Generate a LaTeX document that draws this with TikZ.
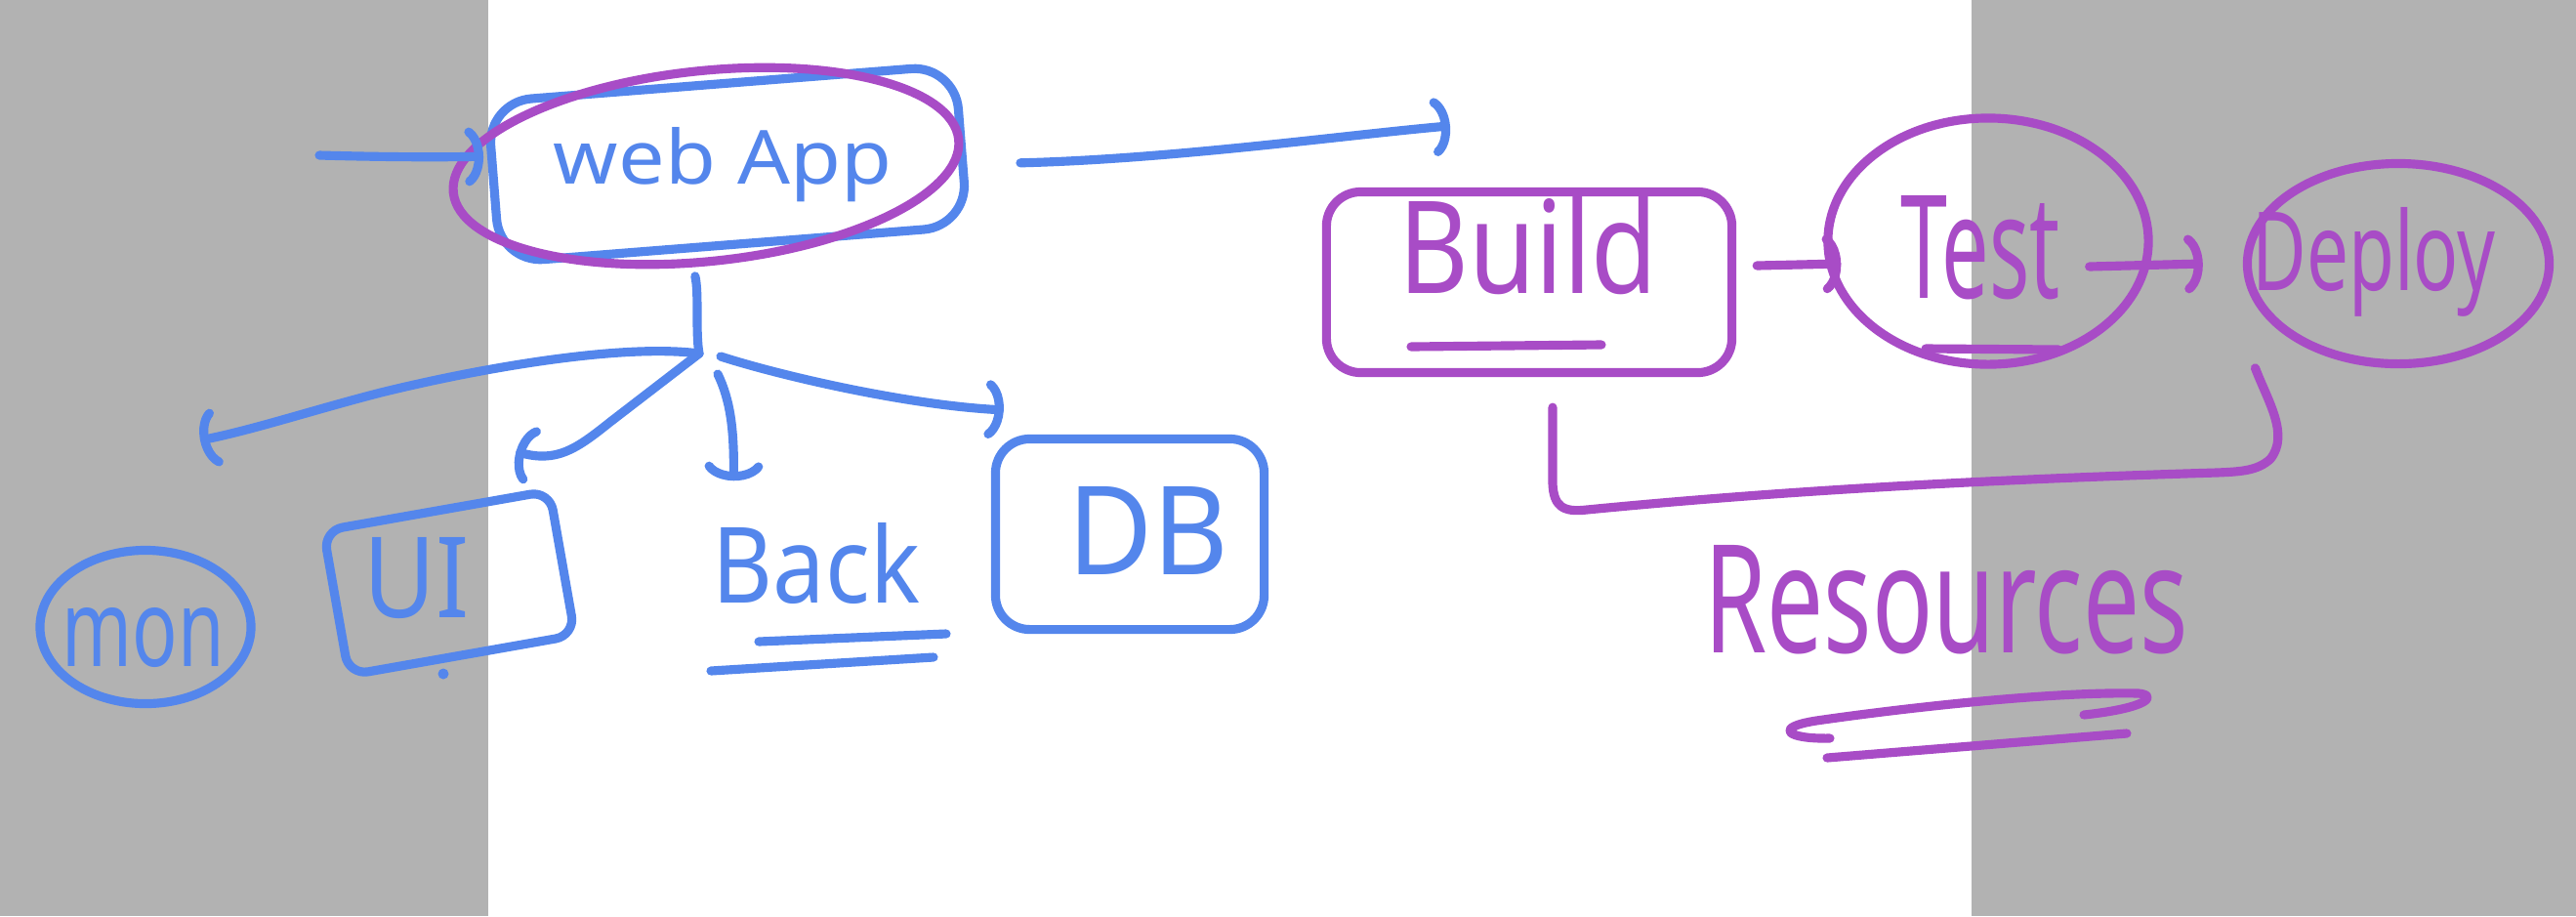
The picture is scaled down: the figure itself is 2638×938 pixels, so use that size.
\documentclass[tikz,border=0pt]{standalone}
\usepackage{fontspec}
\setmainfont{Noto Sans}
\usepackage{graphicx}
\usetikzlibrary{arrows.meta,shapes.geometric}
\definecolor{skblue}{RGB}{84,134,236}
\definecolor{skpurple}{RGB}{168,76,198}
\definecolor{skgray}{RGB}{178,178,178}
\newcommand\hwtxt[3]{\resizebox{#1}{#2}{#3}}
\begin{document}
\begin{tikzpicture}[x=0.01cm,y=-0.01cm,
  pen/.style={line width=2.6pt, line cap=round, line join=round},
  bpen/.style={pen, draw=skblue},
  ppen/.style={pen, draw=skpurple},
  hook/.style={-{Arc Barb[arc=130,length=2.2mm,width=6.5mm,round]}},
  txt/.style={inner sep=0pt, anchor=base},
]
\useasboundingbox (0,0) rectangle (2638,938);
\fill[white] (0,0) rectangle (2638,938);
\fill[skgray] (0,0) rectangle (500,938);
\fill[skgray] (2019,0) rectangle (2638,938);

% shapes
\node[bpen, rectangle, rounded corners=0.45cm, minimum width=4.8cm, minimum height=1.65cm, rotate=4.5, inner sep=0pt] (webbox) at (745,168) {};
\node[ppen, ellipse, minimum width=5.2cm, minimum height=1.95cm, rotate=6, inner sep=0pt] (webring) at (723,170) {};
\node[ppen, rectangle, rounded corners=0.35cm, minimum width=4.15cm, minimum height=1.85cm, inner sep=0pt] (build) at (1566,289) {};
\node[ppen, ellipse, minimum width=3.28cm, minimum height=2.52cm, inner sep=0pt] (test) at (2036,247) {};
\node[ppen, ellipse, minimum width=3.09cm, minimum height=2.05cm, inner sep=0pt] (deploy) at (2456,270) {};
\node[bpen, ellipse, minimum width=2.16cm, minimum height=1.57cm, inner sep=0pt] (mon) at (149,642) {};
\node[bpen, rectangle, rounded corners=0.2cm, minimum width=2.35cm, minimum height=1.5cm, rotate=10, inner sep=0pt] (ui) at (460,597) {};
\node[bpen, rectangle, rounded corners=0.35cm, minimum width=2.75cm, minimum height=1.95cm, inner sep=0pt] (db) at (1157,547) {};

% texts
\node[txt, text=skblue] (webtxt) at (740,188) {\hwtxt{3.46cm}{0.58cm}{web App}};
\node[txt, text=skpurple] (buildtxt) at (1565,300) {\hwtxt{2.65cm}{1.0cm}{Build}};
\node[txt, text=skpurple] (testtxt) at (2028,305) {\hwtxt{1.63cm}{1.05cm}{Test}};
\node[txt, text=skpurple] (deploytxt) at (2431,297) {\hwtxt{2.49cm}{0.85cm}{Deploy}};
\node[txt, text=skblue] (montxt) at (147,682) {\hwtxt{1.66cm}{0.6cm}{mon}};
\node[txt, text=skblue] (uitxt) at (427,632) {\hwtxt{1.08cm}{0.82cm}{UI}};
\node[txt, text=skblue] (backtxt) at (836,617) {\hwtxt{2.12cm}{0.82cm}{Back}};
\node[txt, text=skblue] (dbtxt) at (1176,588) {\hwtxt{1.65cm}{0.9cm}{DB}};
\node[txt, text=skpurple] (restxt) at (1993,668) {\hwtxt{4.95cm}{1.1cm}{Resources}};

% connectors
\coordinate (src) at (327,159);
\coordinate (hub) at (716,362);
\draw[bpen,hook] (src) .. controls (400,161) and (450,161) .. ([shift={(-6,-27)}]webbox.west);
\draw[bpen,hook] ([shift={(56,18)}]webbox.east) .. controls (1200,163) and (1380,138) .. ([shift={(-81,-63)}]build.north);
\draw[ppen,hook] ([shift={(21,-17)}]build.east) -- ([shift={(18,23)}]test.west);
\draw[ppen,hook] ([shift={(-65,26)}]test.east) -- ([shift={(-41,0)}]deploy.west);
\draw[ppen] ([shift={(-34,31)}]deploy.south west) .. controls (2322,410) and (2345,445) .. (2325,470)
  .. controls (2312,482) and (2295,483) .. (2270,484)
  .. controls (2000,492) and (1800,505) .. (1625,522)
  .. controls (1600,525) and (1591,518) .. (1590,495) -- ([shift={(24,31)}]build.south);
\draw[bpen] ([shift={(-40,28)}]webbox.south) .. controls (716,300) and (712,340) .. (hub);
\draw[bpen,hook] (hub) .. controls (640,352) and (500,375) .. (390,402)
  .. controls (320,420) and (260,440) .. ([shift={(56,-108)}]mon.north);
\draw[bpen,hook] (hub) -- (625,432) .. controls (590,460) and (570,474) .. ([shift={(-38,-35)}]ui.north east);
\draw[bpen,hook] ([shift={(19,21)}]hub) .. controls (748,410) and (752,440) .. ([shift={(22,-42)}]backtxt.north west);
\draw[bpen,hook] ([shift={(22,3)}]hub) .. controls (800,385) and (930,415) .. ([shift={(13,-25)}]db.north west);

% underlines and marks
\draw[ppen] (1445,355) -- (1640,353);
\draw[ppen] (1972,357) -- (2108,358);
\draw[bpen] (777,657) -- (969,649);
\draw[bpen] (728,687) -- (956,673);
\draw[ppen] (1874,756) .. controls (1830,757) and (1815,745) .. (1860,738)
  .. controls (1950,725) and (2100,708) .. (2190,710)
  .. controls (2210,712) and (2200,725) .. (2134,732);
\draw[ppen] (1871,776) -- (2178,751);
\fill[skblue] (454,690) circle[radius=0.055cm];
\end{tikzpicture}
\end{document}
